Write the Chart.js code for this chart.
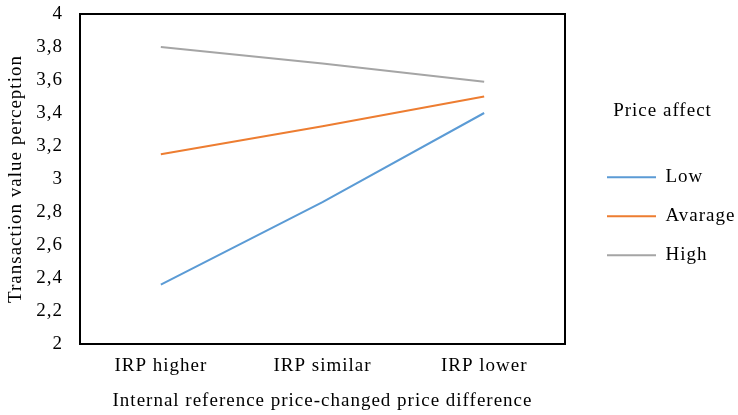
<!DOCTYPE html>
<html>
<head>
<meta charset="utf-8">
<script src="https://cdn.jsdelivr.net/npm/chart.js@4/dist/chart.umd.min.js"></script>
<style>
  html, body { margin: 0; padding: 0; background: #fff; }
  #wrap { width: 738px; height: 415px; }
</style>
</head>
<body>
<div id="wrap"><canvas id="chart" width="738" height="415"></canvas></div>
<script>
// Category axis: internal reference price vs. changed price
const categories = ['IRP higher', 'IRP similar', 'IRP lower'];

// Mean transaction value perception per price-affect group
const lowValues = [2.36, 2.86, 3.40];
const averageValues = [3.15, 3.32, 3.50];
const highValues = [3.80, 3.70, 3.59];

const seriesNames = ['Low', 'Avarage', 'High'];

// Value axis labels (decimal comma)
const yTickLabels = ['2', '2,2', '2,4', '2,6', '2,8', '3', '3,2', '3,4', '3,6', '3,8', '4'];

const FONT = 'Liberation Serif, Times New Roman, serif';
Chart.defaults.font.family = FONT;
Chart.defaults.font.size = 19;
Chart.defaults.color = '#000';

// Slightly open letter spacing for all canvas text
const spacing = {
  id: 'spacing',
  beforeLayout(chart) { chart.ctx.letterSpacing = '1px'; },
  beforeDraw(chart) { chart.ctx.letterSpacing = '1px'; }
};

// Let the legend box run to the right edge of the canvas
const LEGEND_WIDTH = 151;
const legendWidth = {
  id: 'legendWidth',
  afterInit(chart) {
    const legend = chart.legend;
    if (!legend) return;
    const fit = legend.fit;
    legend.fit = function () {
      fit.call(this);
      this.width = LEGEND_WIDTH;
    };
  }
};

// Black frame around the plot area
const frame = {
  id: 'frame',
  afterDatasetsDraw(chart) {
    const { ctx, chartArea: a } = chart;
    ctx.save();
    ctx.strokeStyle = '#000';
    ctx.lineWidth = 2;
    ctx.strokeRect(a.left, a.top, a.right - a.left, a.bottom - a.top);
    ctx.restore();
  }
};

const line = (label, data, color) => ({
  label, data,
  borderColor: color,
  backgroundColor: color,
  borderWidth: 2,
  pointRadius: 0,
  tension: 0,
  fill: false
});

new Chart(document.getElementById('chart'), {
  type: 'line',
  data: {
    labels: categories,
    datasets: [
      line(seriesNames[0], lowValues, '#5B9BD5'),
      line(seriesNames[1], averageValues, '#ED7D31'),
      line(seriesNames[2], highValues, '#A5A5A5')
    ]
  },
  options: {
    responsive: false,
    animation: false,
    layout: { padding: { top: 14, bottom: 0, left: 0, right: 0 } },
    plugins: {
      tooltip: { enabled: false },
      legend: {
        position: 'right',
        align: 'start',
        title: {
          display: true,
          text: 'Price affect',
          padding: { top: 88, bottom: 23 },
          font: { size: 19 }
        },
        labels: {
          boxWidth: 49,
          boxHeight: 0,
          padding: 20,
          font: { size: 19 }
        }
      }
    },
    scales: {
      x: {
        type: 'category',
        offset: true,
        grid: { display: false, drawTicks: false },
        border: { display: false },
        ticks: { padding: 11, maxRotation: 0, autoSkip: false },
        title: {
          display: true,
          text: 'Internal reference price-changed price difference',
          padding: { top: 0, bottom: 3 }
        },
        afterFit(scale) { scale.height = 71; }
      },
      y: {
        min: 2,
        max: 4,
        grid: { display: false, drawTicks: true, tickLength: 17 },
        border: { display: false },
        ticks: {
          stepSize: 0.2,
          padding: 0,
          callback: (value, index) => yTickLabels[index]
        },
        title: {
          display: true,
          text: 'Transaction value perception',
          padding: { top: 5, bottom: 0 }
        },
        afterFit(scale) { scale.width = 80; }
      },
      gap: {
        type: 'linear',
        position: 'right',
        grid: { display: false, drawTicks: false },
        border: { display: false },
        ticks: { display: false },
        afterFit(scale) { scale.width = 22; }
      }
    }
  },
  plugins: [spacing, legendWidth, frame]
});
</script>
</body>
</html>
